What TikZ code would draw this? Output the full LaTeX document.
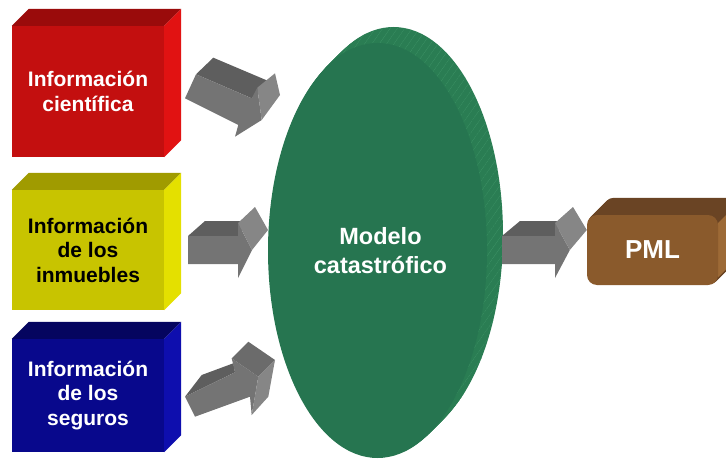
\documentclass[tikz,border=0pt]{standalone}
\usepackage{fontspec}
\setmainfont{Liberation Sans}
\usetikzlibrary{shapes.geometric,calc,backgrounds,patterns.meta}

\definecolor{rojo}{HTML}{C30F0F}
\definecolor{rojosup}{HTML}{9A0B0B}
\definecolor{rojolado}{HTML}{E11212}
\definecolor{amarillo}{HTML}{C8C400}
\definecolor{amarillosup}{HTML}{A09B00}
\definecolor{amarillolado}{HTML}{E4E000}
\definecolor{azul}{HTML}{08088C}
\definecolor{azulsup}{HTML}{05055F}
\definecolor{azullado}{HTML}{0E0EAE}
\definecolor{verde}{HTML}{267550}
\definecolor{verdelado}{HTML}{2A7D53}
\definecolor{verderaya}{HTML}{3F9468}
\definecolor{marron}{HTML}{8A5A2C}
\definecolor{marronsup}{HTML}{6A4424}
\definecolor{marronlado}{HTML}{9D6A36}
\definecolor{grisosc}{HTML}{5E5E5E}
\definecolor{grismed}{HTML}{747474}
\definecolor{grisclaro}{HTML}{868686}

\begin{document}
\begin{tikzpicture}[x=1pt,y=-1pt,
  caja/.style={rectangle,minimum width=152pt,minimum height=#1,inner sep=0pt,align=center,
    font=\fontsize{21}{24.5}\selectfont\bfseries},
  elipse/.style={ellipse,fill=verde,minimum width=219pt,minimum height=415pt,inner sep=0pt,
    align=center,text=white,font=\fontsize{23.5}{29}\selectfont\bfseries},
  pmlbox/.style={rectangle,rounded corners=10pt,fill=marron,minimum width=131pt,minimum height=70pt,
    text=white,font=\fontsize{26}{30}\selectfont\bfseries}]
\useasboundingbox (0,0) rectangle (726,460);

\node[caja=131pt,fill=rojo,text=white] (cient) at (88,91.5) {Información\\científica};
\node[caja=120pt,fill=amarillo,text=black] (inmu) at (88,250) {Información\\de los\\inmuebles};
\node[caja=113pt,fill=azul,text=white] (segu) at (88,395.5) {Información\\de los\\seguros};
\foreach \n/\c in {cient/rojo,inmu/amarillo,segu/azul}{
  \fill[\c sup] (\n.north west) -- ++(17,-17) -- ($(\n.north east)+(17,-17)$) -- (\n.north east) -- cycle;
  \fill[\c lado] (\n.north east) -- ++(17,-17) -- ($(\n.south east)+(17,-17)$) -- (\n.south east) -- cycle;
}

\node[elipse] (modelo) at (377.5,250.5) {\hspace*{6pt}Modelo\\\hspace*{6pt}catastrófico};
\begin{scope}[on background layer]
  \foreach \k in {16,...,1}
    \fill[verdelado,postaction={pattern={Lines[angle=55,distance=6pt,line width=0.3pt]},pattern color=verderaya}]
      ($(modelo.center)+(\k,-\k)$) ellipse [x radius=109.5pt,y radius=207.5pt];
\end{scope}

\foreach \px/\py/\s in {188/236/1,502/236/1.06}{
  \begin{scope}[shift={(\px,\py)},xscale=\s]
    \fill[grisosc] (0,0) -- (17,-15) -- (60,-15) -- (50,0) -- cycle;
    \fill[grismed] (0,0) -- (50,0) -- (50,-13) -- (64,14) -- (50,42) -- (50,28) -- (0,28) -- cycle;
    \fill[grisclaro] (50,-13) -- (67,-29) -- (80,-6) -- (64,14) -- cycle;
  \end{scope}
}

\fill[grisosc] (196,74.3) -- (213.3,57.7) -- (268.3,81) -- (251.7,98.3) -- cycle;
\fill[grismed] (196,74.3) -- (251.7,98.3) -- (257.3,87.7) -- (261.7,120) -- (235,136.7) -- (238.3,125) -- (185,98.3) -- cycle;
\fill[grisclaro] (257.3,87.7) -- (275,73.3) -- (280,95) -- (261.7,120) -- cycle;

\fill[grisosc] (185,396.7) -- (201.7,375) -- (233.3,363.3) -- (235,372.3) -- cycle;
\fill[grismed] (185,396.7) -- (235,372.3) -- (231.7,358.3) -- (258.3,376.7) -- (251.7,415) -- (250,396.7) -- (195,416.7) -- cycle;
\fill[grisosc!40!grismed] (231.7,358.3) -- (248.3,341.7) -- (275,360) -- (258.3,376.7) -- cycle;
\fill[grisclaro] (258.3,376.7) -- (275,360) -- (268.3,396.7) -- (251.7,415) -- cycle;

\node[pmlbox] (pml) at (652.5,250) {PML};
\begin{scope}[on background layer]
  \foreach \k in {17,...,1}
    \fill[marronsup,rounded corners=10pt] ($(pml.south west)+(\k,-\k)$) rectangle ($(pml.north east)+(\k,-\k)$);
  \fill[marronlado] ($(pml.north east)+(0,8)$) -- ++(17,-17) -- ($(pml.south east)+(17,-25)$) -- ($(pml.south east)+(0,-8)$) -- cycle;
\end{scope}
\end{tikzpicture}
\end{document}
